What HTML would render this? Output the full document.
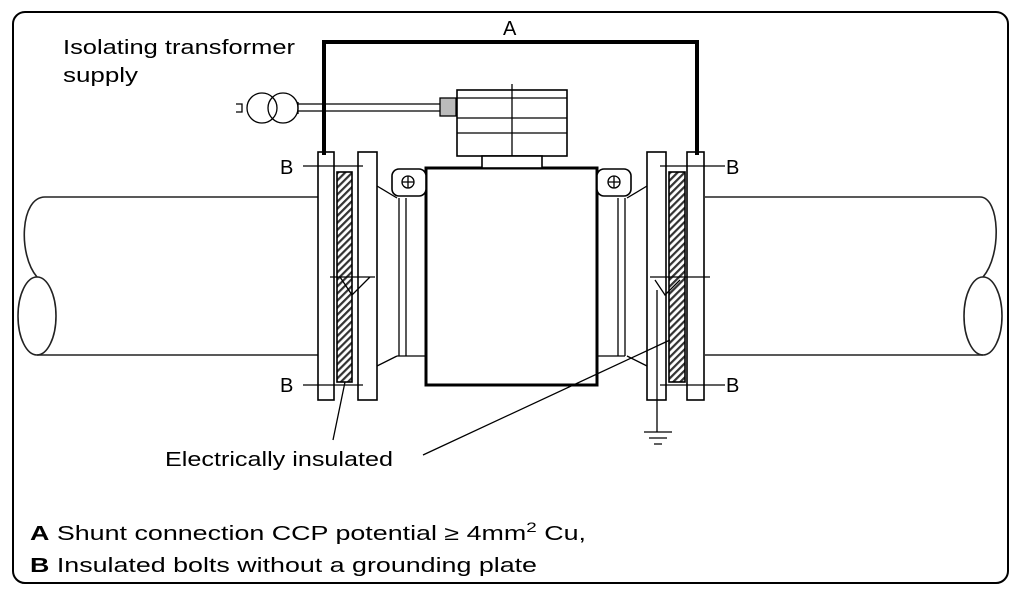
<!DOCTYPE html>
<html><head><meta charset="utf-8"><style>
html,body{margin:0;padding:0;background:#fff;}
svg{display:block;font-family:"Liberation Sans",Arial,sans-serif;}
</style></head><body>
<svg width="1024" height="595" viewBox="0 0 1024 595" xmlns="http://www.w3.org/2000/svg">
<defs>
<pattern id="h" width="5" height="5" patternUnits="userSpaceOnUse" patternTransform="rotate(45)">
<rect width="5" height="5" fill="#fff"/><rect width="2.2" height="5" fill="#333"/></pattern>
</defs>
<rect x="13" y="12" width="995" height="571" rx="12" fill="#fff" stroke="#000" stroke-width="2"/>
<g fill="none" stroke="#222" stroke-width="1.6">
<path d="M318 197 H45 C20 197 18 255 37 277"/>
<path d="M318 355 H37"/>
<ellipse cx="37" cy="316" rx="19" ry="39"/>
<path d="M705 197 H980 C1000 197 1002 255 983 277"/>
<path d="M705 355 H983"/>
<ellipse cx="983" cy="316" rx="19" ry="39"/>
</g>
<g stroke="#000" stroke-width="1.6" fill="#fff">
<rect x="318" y="152" width="16" height="248"/>
<rect x="358" y="152" width="19" height="248"/>
<rect x="337" y="172" width="15" height="210" fill="url(#h)"/>
<rect x="647" y="152" width="19" height="248"/>
<rect x="687" y="152" width="17" height="248"/>
<rect x="669" y="172" width="16" height="210" fill="url(#h)"/>
<rect x="426" y="168" width="171" height="217" stroke-width="3"/>
<rect x="392" y="169" width="34" height="27" rx="7"/>
<rect x="597" y="169" width="34" height="27" rx="7"/>
<rect x="457" y="90" width="110" height="66"/>
<rect x="482" y="156" width="60" height="12"/>
</g>
<g stroke="#000" stroke-width="1.3" fill="none">
<circle cx="408" cy="182" r="6"/><path d="M402 182h12M408 176v12"/>
<circle cx="614" cy="182" r="6"/><path d="M608 182h12M614 176v12"/>
<path d="M457 98h110M457 118h110M457 133h110M512 84v72"/>
<path d="M377 186 L397 198 M377 366 L397 356 M399 198v158 M406 198v158 M397 356h29"/>
<path d="M647 186 L627 198 M647 366 L627 356 M618 198v158 M625 198v158 M597 356h28"/>
<path d="M298 104 H442 M298 111 H442"/>
<circle cx="262" cy="108" r="15"/><circle cx="283" cy="108" r="15"/>
<path d="M236 104h6v8h-6M298 102v12"/>
<rect x="440" y="98" width="16" height="18" fill="#bbb"/>
<path d="M303 166h60M303 385h60M660 166h65M660 385h65"/>
<path d="M340 277 L352 295 L370 277 M330 277h45"/>
<path d="M650 277h60 M655 280 L665 295 L680 280"/>
<path d="M657 290v142 M644 432h28 M649 438h18 M654 444h8"/>
<path d="M345 382 L333 440 M423 455 L670 340"/>
</g>
<path d="M324 155 V42 H697 V155" fill="none" stroke="#000" stroke-width="4"/>
<g font-size="20" fill="#000">
<text x="503" y="35">A</text>
<text x="280" y="174">B</text><text x="280" y="392">B</text>
<text x="726" y="174">B</text><text x="726" y="392">B</text>
<text x="63" y="54" textLength="232" lengthAdjust="spacingAndGlyphs">Isolating transformer</text>
<text x="63" y="82" textLength="75" lengthAdjust="spacingAndGlyphs">supply</text>
<text x="165" y="466" textLength="228" lengthAdjust="spacingAndGlyphs">Electrically insulated</text>
<text x="30" y="540" textLength="556" lengthAdjust="spacingAndGlyphs"><tspan font-weight="bold">A</tspan> Shunt connection CCP potential ≥ 4mm<tspan font-size="14" dy="-8">2</tspan><tspan dy="8"> Cu,</tspan></text>
<text x="30" y="572" textLength="507" lengthAdjust="spacingAndGlyphs"><tspan font-weight="bold">B</tspan> Insulated bolts without a grounding plate</text>
</g>
</svg>
</body></html>
